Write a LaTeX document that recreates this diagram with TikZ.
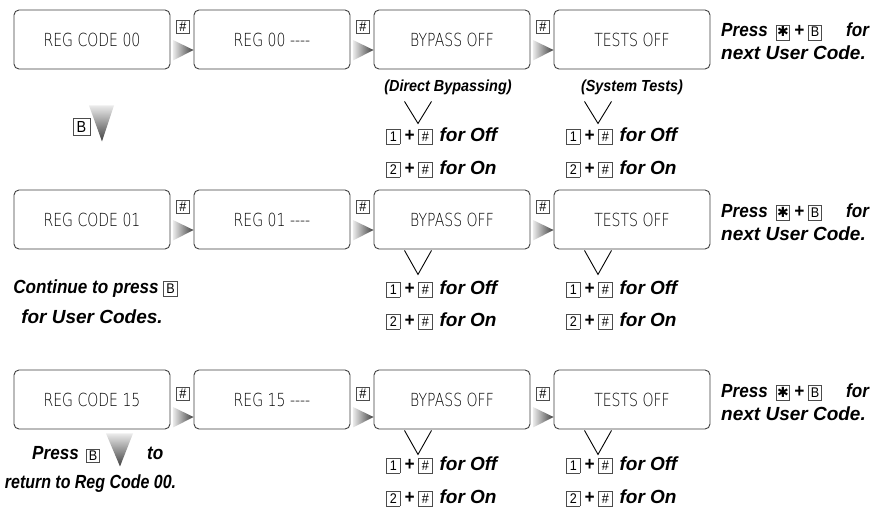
\documentclass[tikz,border=0pt]{standalone}
\usepackage{fontspec}
\setmainfont{Liberation Sans}[FakeStretch=0.9]
\newfontfamily\wfont{Liberation Sans}[FakeStretch=1.0]
\newfontfamily\nfont{Liberation Sans}[FakeStretch=0.84]
\newfontfamily\lcdfont{DejaVuSans-ExtraLight.ttf}[FakeStretch=0.78]
\newfontfamily\symfont{DejaVu Sans}
\usetikzlibrary{calc}
\newcommand\kb[1]{{\setlength\fboxsep{0.5pt}\setlength\fboxrule{0.85pt}\fcolorbox{black!70}{white}{\makebox[11.5pt]{\rule[-2.2pt]{0pt}{13pt}\normalfont\fontsize{14}{14}\selectfont #1}}}}
\newcommand\pl{\kern4pt+\kern4pt}
\tikzset{
  lcdbox/.style={draw=black!75, line width=0.9pt, rounded corners=5pt, minimum width=156pt, minimum height=59pt, inner sep=0pt, font=\lcdfont\fontsize{18}{18}\selectfont, text=black},
  note/.style={font=\fontsize{19}{23}\selectfont\bfseries\itshape, inner sep=0pt, anchor=base west},
  notec/.style={font=\fontsize{19}{23}\selectfont\bfseries\itshape, inner sep=0pt, anchor=base},
  lbl/.style={font=\fontsize{16}{18}\selectfont\bfseries\itshape, inner sep=0pt},
  keyn/.style={draw=black!70, line width=0.85pt, fill=white, minimum size=13pt, inner sep=0pt, font=\fontsize{14}{14}\selectfont},
  bigkey/.style={keyn, minimum size=17pt, font=\fontsize{16}{16}\selectfont},
  vline/.style={draw=black, line width=0.9pt},
  rtri/.style={left color=black!8, right color=black!75},
  dtri/.style={top color=black!8, bottom color=black!75}
}
\begin{document}
\begin{tikzpicture}[x=1pt,y=-1pt]
\useasboundingbox[fill=white] (0,0) rectangle (888,508);
% boxes
\node[lcdbox] (b11) at (92,39.5)  {REG CODE 00};
\node[lcdbox] (b12) at (272,39.5) {REG 00 ----};
\node[lcdbox] (b13) at (452,39.5) {BYPASS OFF};
\node[lcdbox] (b14) at (632,39.5) {TESTS OFF};
\node[lcdbox] (b21) at (92,219.5)  {REG CODE 01};
\node[lcdbox] (b22) at (272,219.5) {REG 01 ----};
\node[lcdbox] (b23) at (452,219.5) {BYPASS OFF};
\node[lcdbox] (b24) at (632,219.5) {TESTS OFF};
\node[lcdbox] (b31) at (92,399.5)  {REG CODE 15};
\node[lcdbox] (b32) at (272,399.5) {REG 15 ----};
\node[lcdbox] (b33) at (452,399.5) {BYPASS OFF};
\node[lcdbox] (b34) at (632,399.5) {TESTS OFF};
% connectors between boxes
\foreach \r/\s in {1/0,2/0,3/7} {
  \foreach \c/\d in {1/2,2/3,3/4} {
    \shade[rtri] ($(b\r\c.east)+(2.5,0.5+\s)$) -- ($(b\r\d.west)+(0,10.5+\s)$) -- ($(b\r\c.east)+(2.5,21+\s)$) -- cycle;
    \node[keyn] (h\r\c) at ($(b\r\c.east)+(12.5,-12.5+\s)$) {\#};
  }
  \node[note] (pa\r) at ($(b\r4.center)+(89,-2.5)$) {Press\hspace{8pt}\kb{\symfont ✱}\pl\kb{B}\hspace{24pt}for};
  \node[note] (pb\r) at ($(b\r4.center)+(89,20.5)$) {\wfont next User Code.};
}
% row 1 labels
\node[lbl] (l13) at ($(b13.south)+(-4,18)$) {(Direct Bypassing)};
\node[lbl] (l14) at ($(b14.south)+(0,18)$) {(System Tests)};
% V marks
\foreach \c in {3,4} {
  \draw[vline] ($(b1\c.south)+(-47.5,32)$) -- ($(b1\c.south)+(-34,54)$) -- ($(b1\c.south)+(-20.5,32)$);
  \draw[vline] ($(b2\c.south)+(-47.5,1)$) -- ($(b2\c.south)+(-34,25)$) -- ($(b2\c.south)+(-20.5,1)$);
  \draw[vline] ($(b3\c.south)+(-47.5,1)$) -- ($(b3\c.south)+(-34,25)$) -- ($(b3\c.south)+(-20.5,1)$);
}
% key lines
\foreach \r/\ya/\yb in {1/141/174,2/294/326,3/470/503} {
  \foreach \c/\x in {3/386,4/566} {
    \node[note] (ka\r\c) at (\x,\ya) {\kb{1}\pl\kb{\#}\hspace{7pt}{\wfont for Off}};
    \node[note] (kb\r\c) at (\x,\yb) {\kb{2}\pl\kb{\#}\hspace{7pt}{\wfont for On}};
  }
}
% row 1 -> row 2 down arrow
\shade[dtri] ($(b11.south)+(-3,36)$) -- ($(b11.south)+(22,36)$) -- ($(b11.south)+(10,72)$) -- cycle;
\node[bigkey] (kbB1) at ($(b11.south)+(-10.5,57.5)$) {B};
% continue text
\node[notec] (c1) at (95.5,293) {Continue to press \kb{B}};
\node[notec] (c2) at (92,323) {\wfont for User Codes.};
% row 3 return
\shade[dtri] ($(b31.south)+(14,4)$) -- ($(b31.south)+(41,4)$) -- ($(b31.south)+(28,37)$) -- cycle;
\node[note] (r1) at (32,459) {Press};
\node[keyn] (kbB3) at (93,456) {B};
\node[note] (r2) at (147,459) {to};
\node[notec] (r3) at (90.5,488) {\nfont return to Reg Code 00.};
\end{tikzpicture}
\end{document}
